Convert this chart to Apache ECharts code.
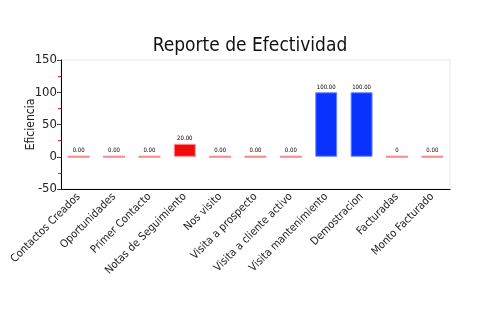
<!DOCTYPE html>
<html>
<head>
<meta charset="utf-8">
<script src="https://cdn.jsdelivr.net/npm/echarts@6/dist/echarts.min.js"></script>
<style>
  html, body { margin: 0; padding: 0; background: #fff; }
  #chart { width: 500px; height: 330px; }
</style>
</head>
<body>
<div id="chart"></div>
<script>
// Efficiency per sales stage
const categories = ['Contactos Creados', 'Oportunidades', 'Primer Contacto', 'Notas de Seguimiento',
  'Nos visito', 'Visita a prospecto', 'Visita a cliente activo', 'Visita mantenimiento',
  'Demostracion', 'Facturadas', 'Monto Facturado'];
const efficiency = [0, 0, 0, 20, 0, 0, 0, 100, 100, 0, 0];
const valueLabels = ['0.00', '0.00', '0.00', '20.00', '0.00', '0.00', '0.00', '100.00', '100.00', '0', '0.00'];
const yTicks = [-50, 0, 50, 100, 150];

const FONT = '"Liberation Sans Narrow", "DejaVu Sans Condensed", sans-serif';

function barStyle(v) {
  if (v >= 100) return { color: '#0a32ff', borderColor: '#6f86ff', borderWidth: 1 };
  if (v > 0) return { color: '#f00a0a', borderColor: '#ff8a8a', borderWidth: 1 };
  return { color: '#f48a8a', borderColor: '#f48a8a', borderWidth: 2 };
}

const chart = echarts.init(document.getElementById('chart'), null, { renderer: 'canvas' });
chart.setOption({
  animation: false,
  title: {
    text: 'Reporte de Efectividad',
    left: 'center',
    top: 32,
    textStyle: { fontFamily: FONT, fontSize: 19, fontWeight: 'normal', color: '#111' }
  },
  grid: {
    left: 61, right: 50, top: 60, bottom: 141,
    show: true, borderColor: '#e6e6e6', borderWidth: 1, backgroundColor: 'transparent'
  },
  xAxis: {
    type: 'category',
    data: categories,
    axisLine: { onZero: false, lineStyle: { color: '#000', width: 1 } },
    axisTick: { alignWithLabel: true, length: 3, lineStyle: { color: '#333' } },
    axisLabel: {
      rotate: 45, interval: 0, margin: 6,
      fontFamily: FONT, fontSize: 11, color: '#222'
    },
    splitLine: { show: false }
  },
  yAxis: {
    type: 'value',
    min: yTicks[0],
    max: yTicks[yTicks.length - 1],
    interval: 50,
    name: 'Eficiencia',
    nameLocation: 'middle',
    nameGap: 24,
    nameMoveOverlap: false,
    nameTextStyle: { fontFamily: FONT, fontSize: 12, color: '#222' },
    axisLine: { show: true, lineStyle: { color: '#000', width: 1 } },
    axisTick: { show: true, length: 4, lineStyle: { color: '#444' } },
    minorTick: { show: true, splitNumber: 2, length: 3, lineStyle: { color: '#f02020' } },
    axisLabel: { fontFamily: FONT, fontSize: 13, color: '#222', margin: 4 },
    splitLine: { show: false }
  },
  series: [{
    type: 'bar',
    barWidth: '62%',
    data: efficiency.map(v => ({ value: v, itemStyle: barStyle(v) })),
    label: {
      show: true,
      position: 'top',
      distance: 2,
      fontFamily: FONT,
      fontSize: 6,
      color: '#000',
      formatter: p => valueLabels[p.dataIndex]
    }
  }]
});
</script>
</body>
</html>
